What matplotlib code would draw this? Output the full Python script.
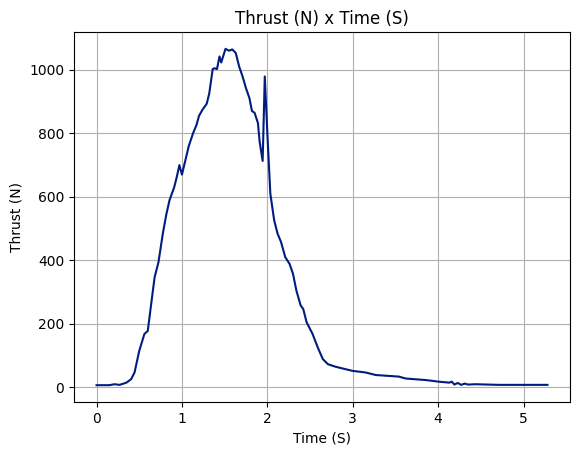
import matplotlib
matplotlib.use("Agg")
import matplotlib.pyplot as plt

time_s = [0.00, 0.15, 0.21, 0.27, 0.35, 0.405, 0.445, 0.50, 0.56, 0.60, 0.64, 0.68,
          0.725, 0.776, 0.815, 0.854, 0.91, 0.94, 0.97, 1.00, 1.05, 1.08, 1.13, 1.17,
          1.20, 1.24, 1.29, 1.32, 1.36, 1.38, 1.41, 1.44, 1.46, 1.51, 1.55, 1.59,
          1.63, 1.67, 1.71, 1.75, 1.79, 1.82, 1.85, 1.89, 1.91, 1.945, 1.97, 2.00,
          2.035, 2.08, 2.12, 2.16, 2.21, 2.26, 2.30, 2.34, 2.39, 2.42, 2.46, 2.53,
          2.59, 2.65, 2.71, 2.80, 2.89, 3.00, 3.15, 3.27, 3.54, 3.62, 3.86, 4.01,
          4.13, 4.16, 4.19, 4.23, 4.27, 4.31, 4.35, 4.44, 4.71, 5.28]
thrust_n = [7, 7, 10, 8, 15, 26, 47, 115, 168, 178, 263, 347,
            394, 484, 542, 589, 631, 663, 700, 670, 726, 760, 800, 826,
            855, 874, 893, 926, 1002, 1005, 1002, 1042, 1023, 1066, 1060, 1064,
            1053, 1010, 979, 942, 911, 870, 865, 832, 773, 713, 979, 800,
            610, 526, 484, 458, 410, 389, 358, 305, 258, 247, 205, 168,
            126, 89, 73, 65, 59, 52, 47, 39, 34, 28, 23, 18,
            15, 18, 9, 14, 8, 12, 9, 10, 8, 8]

fig = plt.figure(figsize=(5.8, 4.55), dpi=100)
ax = fig.add_axes([74 / 580, 1 - 402 / 455, 496 / 580, 370 / 455])
ax.plot(time_s, thrust_n, color="#001c7f", linewidth=1.5)
ax.set_title("Thrust (N) x Time (S)")
ax.set_xlabel("Time (S)")
ax.set_ylabel("Thrust (N)")
ax.grid(True)
fig.savefig("out.png", dpi=100)
